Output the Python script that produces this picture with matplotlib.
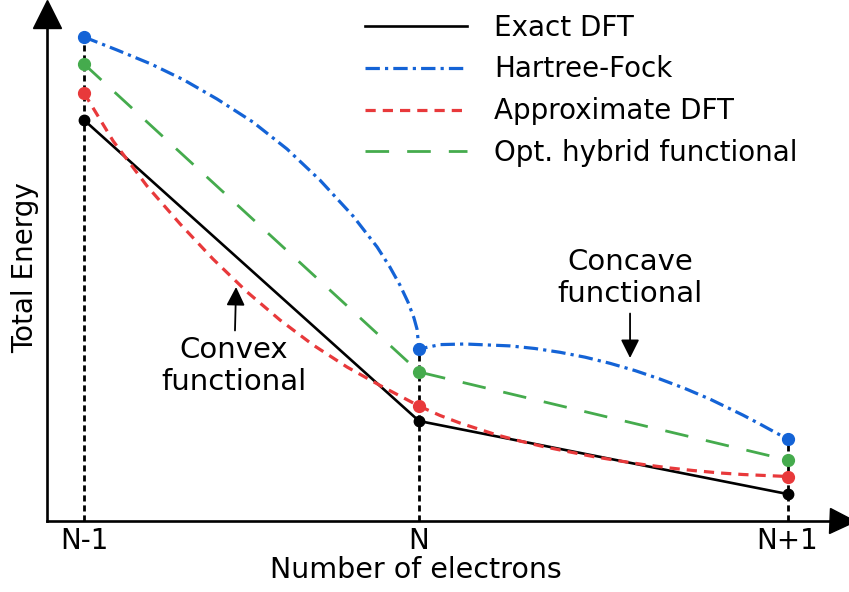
import numpy as np
import matplotlib.pyplot as plt

# x positions of N-1, N, N+1 and energies in arbitrary units
x_pts = [0.0, 1.0, 2.1]
tick_labels = ['N-1', 'N', 'N+1']

exact_dft = [4.01, 1.00, 0.27]
hybrid = [4.57, 1.49, 0.61]

# Hartree-Fock curve, points
hf_x = [0.000, 0.0985, 0.200, 0.2985, 0.397, 0.504, 0.606, 0.704, 0.803, 0.875,
        0.913, 0.943, 0.967, 0.985, 0.994, 1.000,
        1.063, 1.137, 1.272, 1.346, 1.421, 1.496, 1.570, 1.645, 1.719, 1.794,
        1.869, 1.967, 2.018, 2.048, 2.100]
hf_y = [4.84, 4.71, 4.57, 4.41, 4.22, 3.99, 3.72, 3.41, 3.05, 2.74,
        2.54, 2.36, 2.19, 2.03, 1.92, 1.72,
        1.764, 1.77, 1.751, 1.725, 1.687, 1.638, 1.577, 1.504, 1.42, 1.325,
        1.218, 1.059, 0.969, 0.914, 0.82]

# Approximate DFT curve
adft_x = [0.000, 0.087, 0.188, 0.287, 0.385, 0.487, 0.585, 0.684, 0.785, 0.884, 1.000,
          1.063, 1.122, 1.182, 1.233, 1.301, 1.370, 1.451, 1.519, 1.600, 1.669,
          1.749, 1.818, 1.899, 1.967, 2.033, 2.100]
adft_y = [4.28, 3.80, 3.35, 2.97, 2.62, 2.29, 2.01, 1.76, 1.54, 1.355, 1.15,
          1.055, 0.98, 0.915, 0.86, 0.80, 0.745, 0.69, 0.645, 0.60, 0.565,
          0.53, 0.505, 0.48, 0.465, 0.455, 0.445]

BLUE = '#1463d6'
RED = '#e8393b'
GREEN = '#45ab4d'
FS = 20

fig = plt.figure(figsize=(8.49, 5.92), dpi=100)
W, H = 849, 592
ax = fig.add_axes([47 / W, (H - 521) / H, (842 - 47) / W, (521 - 14) / H])

ax.set_xlim((47 - 84) / 335, (842 - 84) / 335)
ax.set_ylim(0, (521 - 14) / 100)

hf_marks = [hf_y[0], hf_y[15], hf_y[-1]]
adft_marks = [adft_y[0], adft_y[10], adft_y[-1]]

# vertical guides
for xv, yv in zip(x_pts, hf_marks):
    ax.plot([xv, xv], [0, yv], color='black', lw=2.0, ls=(0, (2.2, 1.4)), zorder=1)

l1, = ax.plot(x_pts, exact_dft, color='black', lw=1.9, zorder=3, label='Exact DFT')
l2, = ax.plot(hf_x, hf_y, color=BLUE, lw=2.3, ls=(0, (4.5, 1.6, 1.0, 1.6)), zorder=3,
              label='Hartree-Fock')
l3, = ax.plot(adft_x, adft_y, color=RED, lw=2.3, ls=(0, (3.2, 2.2)), zorder=3,
              label='Approximate DFT')
l4, = ax.plot(x_pts, hybrid, color=GREEN, lw=2.0, ls=(0, (8.5, 6.5)), zorder=3,
              label='Opt. hybrid functional')

ax.plot(x_pts, hf_marks, 'o', color=BLUE, ms=8.5, zorder=5)
ax.plot(x_pts, hybrid, 'o', color=GREEN, ms=8.5, zorder=5)
ax.plot(x_pts, adft_marks, 'o', color=RED, ms=8.5, zorder=5)
ax.plot(x_pts, exact_dft, 'o', color='black', ms=7.5, zorder=5)

for s in ['top', 'right']:
    ax.spines[s].set_visible(False)
for s in ['left', 'bottom']:
    ax.spines[s].set_linewidth(1.9)

# axis arrows
ax.plot(1, 0, '>', color='black', ms=18, transform=ax.transAxes, clip_on=False)
ax.plot(0, 1, '^', color='black', ms=20, transform=ax.transAxes, clip_on=False)

ax.set_xticks(x_pts)
ax.set_xticklabels(tick_labels, fontsize=FS)
ax.set_yticks([])
ax.tick_params(axis='x', length=0, pad=4)

ax.set_xlabel('Number of electrons', fontsize=20.5)
ax.xaxis.set_label_coords((416 - 47) / (842 - 47), -(556 - 521) / (521 - 14))
ax.set_ylabel('Total Energy', fontsize=FS, labelpad=6)

ax.annotate('Convex\nfunctional', xy=(0.454, 2.34), xytext=(0.448, 1.55),
            ha='center', va='center', fontsize=21, linespacing=1.18,
            arrowprops=dict(arrowstyle='-|>', color='black', lw=1.3,
                            mutation_scale=28, shrinkA=2, shrinkB=0))
ax.annotate('Concave\nfunctional', xy=(1.630, 1.63), xytext=(1.630, 2.43),
            ha='center', va='center', fontsize=21, linespacing=1.18,
            arrowprops=dict(arrowstyle='-|>', color='black', lw=1.3,
                            mutation_scale=28, shrinkA=2, shrinkB=0))

ax.legend(handles=[l1, l2, l3, l4], loc='upper left', bbox_to_anchor=(359 / W, 1 - 8 / H),
          bbox_transform=fig.transFigure, frameon=False, fontsize=FS,
          handlelength=3.7, handletextpad=0.97, labelspacing=0.5, borderpad=0.2,
          borderaxespad=0)

plt.savefig('out.png', dpi=100)
